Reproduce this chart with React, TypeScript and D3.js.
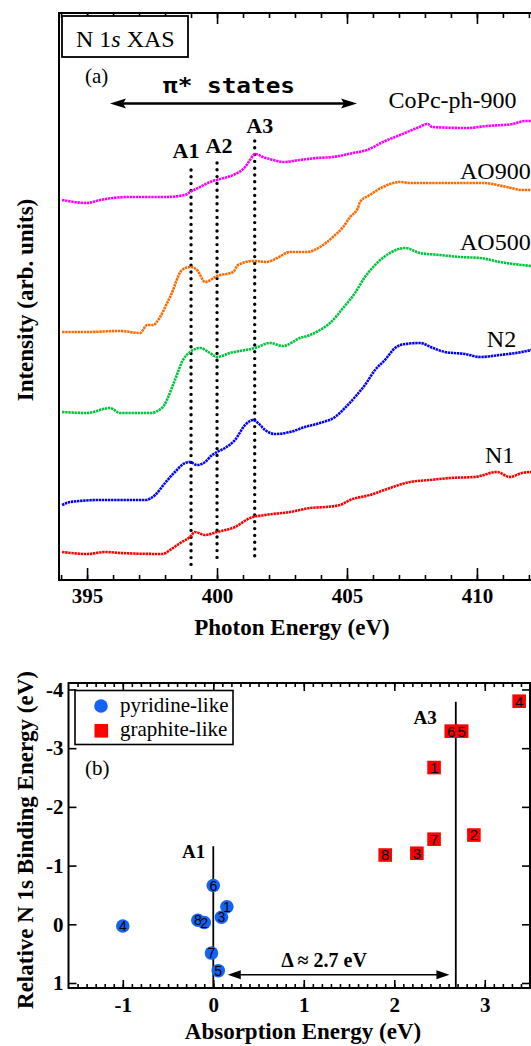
import React, { useEffect, useRef } from "react";
import * as d3 from "d3";

// ---- panel (a): N 1s XAS spectra (energy in eV, intensity in arb. units) ----
const copcE = [394.04, 395.0, 395.5, 396.65, 398.0, 398.77, 398.96, 399.35, 399.73, 400.12, 400.62, 401.08, 401.27, 401.46, 401.77, 402.31, 402.54, 403.19, 403.85, 404.46, 405.23, 405.77, 406.38, 407.04, 407.69, 408.12, 408.27, 409.62, 410.38, 411.38, 411.85, 412.1];
const copcI = [38.0, 37.7, 38.0, 38.3, 38.3, 38.5, 38.8, 39.3, 39.8, 40.1, 40.5, 41.3, 42.0, 42.6, 42.3, 41.9, 41.8, 42.0, 42.2, 42.3, 42.7, 43.0, 43.8, 44.5, 45.2, 45.6, 45.3, 45.2, 45.4, 45.6, 45.9, 45.9];

const ao900E = [394.04, 395.0, 396.27, 397.04, 397.31, 397.54, 397.81, 398.08, 398.31, 398.42, 398.65, 398.96, 399.23, 399.54, 400.0, 400.62, 400.81, 401.38, 401.92, 402.31, 402.81, 403.46, 403.96, 404.46, 404.85, 405.12, 405.42, 405.5, 405.88, 406.38, 407.04, 407.42, 408.31, 410.23, 411.15, 411.73, 412.1];
const ao900I = [24.8, 24.8, 24.9, 24.7, 25.5, 25.5, 26.3, 27.7, 29.0, 29.8, 31.0, 31.3, 31.0, 29.8, 30.4, 30.8, 31.5, 31.9, 31.8, 32.2, 32.8, 32.8, 33.3, 34.3, 35.3, 36.3, 37.2, 37.8, 38.5, 39.3, 39.8, 39.7, 39.7, 39.7, 39.3, 39.0, 39.0];

const ao500E = [394.04, 395.0, 395.88, 396.27, 397.42, 397.92, 398.12, 398.38, 398.69, 398.96, 399.35, 399.73, 400.0, 400.5, 401.46, 402.04, 402.54, 403.19, 403.58, 403.96, 404.35, 404.85, 405.31, 405.69, 406.08, 406.65, 407.23, 407.81, 408.58, 409.35, 410.12, 410.88, 411.73, 412.1];
const ao500I = [16.8, 16.7, 17.2, 16.7, 16.7, 17.3, 18.3, 20.0, 22.0, 22.8, 23.2, 22.7, 22.3, 22.7, 23.2, 23.7, 23.4, 24.2, 24.5, 25.0, 25.7, 27.2, 28.7, 30.3, 31.5, 32.7, 33.2, 32.7, 32.5, 32.3, 32.2, 31.8, 31.5, 31.4];

const n2E = [394.04, 394.35, 395.5, 396.27, 397.23, 397.62, 398.0, 398.38, 398.77, 398.96, 399.23, 399.54, 399.81, 400.0, 400.31, 400.69, 401.08, 401.38, 401.58, 401.85, 402.23, 402.81, 403.38, 403.96, 404.54, 404.92, 405.31, 405.69, 406.08, 406.46, 406.85, 407.23, 407.81, 408.31, 408.77, 409.54, 410.12, 410.88, 411.73, 412.1];
const n2I = [7.5, 7.8, 8.0, 8.0, 8.0, 8.5, 9.7, 10.8, 11.7, 11.8, 11.5, 11.8, 12.5, 12.8, 13.2, 14.0, 15.5, 16.0, 15.7, 15.0, 14.6, 14.8, 15.3, 15.7, 16.3, 17.2, 18.3, 19.5, 21.0, 22.0, 23.2, 23.6, 23.7, 23.2, 22.8, 22.6, 22.3, 22.5, 22.8, 23.0];

const n1E = [394.04, 395.0, 395.69, 396.27, 397.92, 398.19, 398.58, 398.96, 399.15, 399.54, 400.0, 400.69, 401.27, 401.85, 402.81, 403.58, 404.15, 404.73, 405.12, 405.88, 406.65, 407.42, 408.19, 408.96, 409.92, 410.77, 411.27, 411.73, 412.1];
const n1I = [2.8, 2.6, 2.8, 2.7, 2.6, 3.0, 3.7, 4.3, 4.8, 4.5, 4.8, 5.3, 6.2, 6.5, 6.8, 7.2, 7.3, 7.5, 8.0, 8.5, 9.2, 9.8, 10.0, 10.2, 10.3, 10.8, 10.3, 10.7, 10.8];

const spectraNames = ["CoPc-ph-900", "AO900", "AO500", "N2", "N1"];
const spectraColors = ["#ff00ff", "#ff6a00", "#00c43c", "#0000ff", "#ff0000"];
const xTicksA = [395, 400, 405, 410];

const peakNames = ["A1", "A2", "A3"];
const peakE = [399.0, 400.0, 401.45];
const peakTop = [41.0, 41.7, 43.9];
const peakBottom = [1.3, 1.8, 2.3];

// ---- panel (b): relative binding energy vs absorption energy ----
const siteLabels = ["1", "2", "3", "4", "5", "6", "7", "8"];
const pyridineX = [0.15, -0.1, 0.09, -1.0, 0.055, 0.0, -0.02, -0.17];
const pyridineY = [-0.3, -0.03, -0.12, 0.03, 0.79, -0.66, 0.49, -0.07];
const graphiteX = [2.44, 2.88, 2.25, 3.38, 2.745, 2.63, 2.44, 1.9];
const graphiteY = [-2.67, -1.52, -1.21, -3.8, -3.29, -3.29, -1.45, -1.18];
const xTicksB = [-1, 0, 1, 2, 3];
const yTicksB = [-4, -3, -2, -1, 0, 1];

const SERIF = "'Liberation Serif', 'Times New Roman', serif";
const SANS = "'Liberation Sans', Arial, sans-serif";
const BLUE = "#1464f4";

const App = () => {
  const svgRef = useRef<SVGSVGElement>(null);

  useEffect(() => {
    const svg = d3.select(svgRef.current);
    svg.selectAll("*").remove();

    // =========== panel (a) ===========
    const x = d3.scaleLinear().domain([393.92, 412.08]).range([59, 531]);
    const y = d3.scaleLinear().domain([0, 56.7]).range([580, 13]);

    const a = svg.append("g");

    // axes (ticks inward)
    const fixAxis = (g: any, size = 21) => {
      g.select(".domain").remove();
      g.selectAll("line").attr("stroke", "#000").attr("stroke-width", 1.6);
      g.selectAll("text")
        .attr("font-family", SERIF)
        .attr("font-weight", "bold")
        .attr("font-size", size)
        .attr("fill", "#000");
    };

    a.append("g").attr("transform", "translate(0,580)")
      .call(d3.axisBottom(x).tickValues(d3.range(394, 413)).tickSize(-5).tickFormat(() => ""))
      .call(fixAxis);
    a.append("g").attr("transform", "translate(0,580)")
      .call(d3.axisBottom(x).tickValues(xTicksA).tickSize(-12).tickPadding(8).tickFormat(d => String(d)))
      .call(fixAxis);
    a.append("g").attr("transform", "translate(0,13)")
      .call(d3.axisTop(x).tickValues(d3.range(394, 413)).tickSize(-5).tickFormat(() => ""))
      .call(fixAxis);
    a.append("g").attr("transform", "translate(0,13)")
      .call(d3.axisTop(x).tickValues(xTicksA).tickSize(-11).tickFormat(() => ""))
      .call(fixAxis);

    // frame
    a.append("path")
      .attr("d", "M531,13H59V580H531")
      .attr("fill", "none").attr("stroke", "#000").attr("stroke-width", 2);

    // dotted peak lines
    peakNames.forEach((name, i) => {
      a.append("line")
        .attr("x1", x(peakE[i])).attr("x2", x(peakE[i]))
        .attr("y1", y(peakTop[i])).attr("y2", y(peakBottom[i]))
        .attr("stroke", "#000").attr("stroke-width", 3.4)
        .attr("stroke-linecap", "round").attr("stroke-dasharray", "0 6.8");
    });

    // spectra
    const series = [
      [copcE, copcI], [ao900E, ao900I], [ao500E, ao500I], [n2E, n2I], [n1E, n1I],
    ];
    const line = d3.line<[number, number]>()
      .x(d => x(d[0])).y(d => y(d[1]))
      .curve(d3.curveMonotoneX);
    series.forEach(([es, is], k) => {
      const pts = es.map((e, i) => [e, is[i]] as [number, number]);
      a.append("path")
        .attr("d", line(pts))
        .attr("fill", "none")
        .attr("stroke", spectraColors[k])
        .attr("stroke-width", 2.6)
        .attr("stroke-dasharray", "2.4 0.7");
    });

    // spectrum labels (right-hand ones kept inside the picture)
    const labelPos = [[406.6, 47.2], [409.35, 40.1], [409.35, 33.0], [410.38, 23.3], [410.31, 11.7]];
    spectraNames.forEach((n, k) => {
      a.append("text")
        .attr("x", x(labelPos[k][0])).attr("y", y(labelPos[k][1]))
        .attr("font-family", SERIF).attr("font-size", 24).text(n);
    });

    // peak labels
    const peakDx = [-5, 2, 5];
    const peakDy = [-12, -10, -8];
    peakNames.forEach((n, i) => {
      a.append("text")
        .attr("x", x(peakE[i]) + peakDx[i]).attr("y", y(peakTop[i]) + peakDy[i])
        .attr("text-anchor", "middle")
        .attr("font-family", SERIF).attr("font-weight", "bold").attr("font-size", 22)
        .text(n);
    });

    // N 1s XAS box
    a.append("rect").attr("x", 62).attr("y", 16).attr("width", 126).attr("height", 41)
      .attr("fill", "#fff").attr("stroke", "#000").attr("stroke-width", 1.8);
    const t = a.append("text").attr("x", 76).attr("y", 47)
      .attr("font-family", SERIF).attr("font-size", 24);
    t.append("tspan").text("N 1");
    t.append("tspan").attr("font-style", "italic").text("s");
    t.append("tspan").text(" XAS");

    a.append("text").attr("x", 85).attr("y", 83)
      .attr("font-family", SERIF).attr("font-size", 21).text("(a)");

    // pi* states arrow
    a.append("text").attr("x", 163).attr("y", 93)
      .attr("font-family", "'DejaVu Sans Mono', monospace").attr("font-weight", "bold")
      .attr("font-size", 22).attr("textLength", 132).attr("lengthAdjust", "spacingAndGlyphs")
      .text("π* states");
    a.append("line").attr("x1", 120).attr("x2", 348).attr("y1", 103.5).attr("y2", 103.5)
      .attr("stroke", "#000").attr("stroke-width", 2.6);
    a.append("path").attr("d", "M110,103.5L126,98.5L123,103.5L126,108.5Z").attr("fill", "#000");
    a.append("path").attr("d", "M357,103.5L341,98.5L344,103.5L341,108.5Z").attr("fill", "#000");

    // axis titles
    a.append("text")
      .attr("transform", "translate(33,300) rotate(-90)")
      .attr("text-anchor", "middle")
      .attr("font-family", SERIF).attr("font-weight", "bold").attr("font-size", 23)
      .text("Intensity (arb. units)");
    a.append("text").attr("x", 292).attr("y", 635)
      .attr("text-anchor", "middle")
      .attr("font-family", SERIF).attr("font-weight", "bold").attr("font-size", 23)
      .text("Photon Energy (eV)");

    // =========== panel (b) ===========
    const bx = d3.scaleLinear().domain([-1.6, 3.5]).range([68.5, 530]);
    const by = d3.scaleLinear().domain([-4.11, 1.085]).range([683, 988]);
    const b = svg.append("g");

    const minorB = d3.range(-15, 36).map(d => d / 10);
    b.append("g").attr("transform", "translate(0,988)")
      .call(d3.axisBottom(bx).tickValues(minorB).tickSize(-4).tickFormat(() => ""))
      .call(fixAxis);
    b.append("g").attr("transform", "translate(0,988)")
      .call(d3.axisBottom(bx).tickValues(xTicksB).tickSize(-8).tickPadding(9).tickFormat(d => String(d)))
      .call(fixAxis);
    b.append("g").attr("transform", "translate(0,683)")
      .call(d3.axisTop(bx).tickValues(minorB).tickSize(-4).tickFormat(() => ""))
      .call(fixAxis);
    b.append("g").attr("transform", "translate(0,683)")
      .call(d3.axisTop(bx).tickValues(xTicksB).tickSize(-8).tickFormat(() => ""))
      .call(fixAxis);
    b.append("g").attr("transform", "translate(68.5,0)")
      .call(d3.axisLeft(by).tickValues(yTicksB).tickSize(-8).tickPadding(5).tickFormat(d => String(d)))
      .call(fixAxis);
    b.append("g").attr("transform", "translate(530,0)")
      .call(d3.axisRight(by).tickValues(yTicksB).tickSize(-8).tickFormat(() => ""))
      .call(fixAxis);

    b.append("rect").attr("x", 68.5).attr("y", 683).attr("width", 461.5).attr("height", 305)
      .attr("fill", "none").attr("stroke", "#000").attr("stroke-width", 2);

    // A1 / A3 reference lines
    b.append("line").attr("x1", bx(0)).attr("x2", bx(0)).attr("y1", by(-1.33)).attr("y2", by(1.085))
      .attr("stroke", "#000").attr("stroke-width", 1.8);
    b.append("line").attr("x1", bx(2.68)).attr("x2", bx(2.68)).attr("y1", by(-3.79)).attr("y2", by(1.085))
      .attr("stroke", "#000").attr("stroke-width", 1.8);
    b.append("text").attr("x", bx(0) - 8).attr("y", 858).attr("text-anchor", "end")
      .attr("font-family", SERIF).attr("font-weight", "bold").attr("font-size", 19).text("A1");
    b.append("text").attr("x", bx(2.68) - 19).attr("y", 724).attr("text-anchor", "end")
      .attr("font-family", SERIF).attr("font-weight", "bold").attr("font-size", 19).text("A3");

    // delta arrow
    const ay = by(0.86);
    b.append("line").attr("x1", bx(0.16) + 8).attr("x2", bx(2.61) - 8).attr("y1", ay).attr("y2", ay)
      .attr("stroke", "#000").attr("stroke-width", 1.4);
    b.append("path").attr("d", `M${bx(0.16)},${ay}l13,-4.5v9Z`).attr("fill", "#000");
    b.append("path").attr("d", `M${bx(2.61)},${ay}l-13,-4.5v9Z`).attr("fill", "#000");
    b.append("text").attr("x", 324).attr("y", 967).attr("text-anchor", "middle")
      .attr("font-family", SERIF).attr("font-weight", "bold").attr("font-size", 20)
      .text("Δ ≈ 2.7 eV");

    // markers
    b.selectAll("circle.pyr").data(siteLabels).join("circle")
      .attr("class", "pyr")
      .attr("cx", (_, i) => bx(pyridineX[i])).attr("cy", (_, i) => by(pyridineY[i]))
      .attr("r", 6.8).attr("fill", BLUE);
    b.selectAll("rect.gra").data(siteLabels).join("rect")
      .attr("class", "gra")
      .attr("x", (_, i) => bx(graphiteX[i]) - 6.8).attr("y", (_, i) => by(graphiteY[i]) - 6.8)
      .attr("width", 13.6).attr("height", 13.6).attr("fill", "#ff0000");
    b.selectAll("text.pyrl").data(siteLabels).join("text")
      .attr("class", "pyrl")
      .attr("x", (_, i) => bx(pyridineX[i])).attr("y", (_, i) => by(pyridineY[i]))
      .attr("dy", "0.36em").attr("text-anchor", "middle")
      .attr("font-family", SANS).attr("font-size", 14).text(d => d);
    b.selectAll("text.gral").data(siteLabels).join("text")
      .attr("class", "gral")
      .attr("x", (_, i) => bx(graphiteX[i])).attr("y", (_, i) => by(graphiteY[i]))
      .attr("dy", "0.36em").attr("text-anchor", "middle")
      .attr("font-family", SANS).attr("font-size", 15).text(d => d);

    // legend
    b.append("rect").attr("x", 75).attr("y", 690.5).attr("width", 158).attr("height", 54)
      .attr("fill", "#fff").attr("stroke", "#000").attr("stroke-width", 1.6);
    b.append("circle").attr("cx", 101).attr("cy", 706).attr("r", 6.8).attr("fill", BLUE);
    b.append("rect").attr("x", 94.5).attr("y", 724).attr("width", 13.6).attr("height", 13.6).attr("fill", "#ff0000");
    b.append("text").attr("x", 120).attr("y", 712)
      .attr("font-family", SERIF).attr("font-size", 21).text("pyridine-like");
    b.append("text").attr("x", 120).attr("y", 736)
      .attr("font-family", SERIF).attr("font-size", 21).text("graphite-like");

    b.append("text").attr("x", 85).attr("y", 775)
      .attr("font-family", SERIF).attr("font-size", 21).text("(b)");

    // axis titles
    b.append("text")
      .attr("transform", "translate(33,840) rotate(-90)")
      .attr("text-anchor", "middle")
      .attr("font-family", SERIF).attr("font-weight", "bold").attr("font-size", 23)
      .text("Relative N 1s Binding Energy (eV)");
    b.append("text").attr("x", 303).attr("y", 1039)
      .attr("text-anchor", "middle")
      .attr("font-family", SERIF).attr("font-weight", "bold").attr("font-size", 23)
      .text("Absorption Energy (eV)");
  }, []);

  return (
    <svg
      ref={svgRef}
      width={531}
      height={1046}
      style={{ position: "absolute", left: 0, top: 0, background: "#fff" }}
    />
  );
};

export default App;
